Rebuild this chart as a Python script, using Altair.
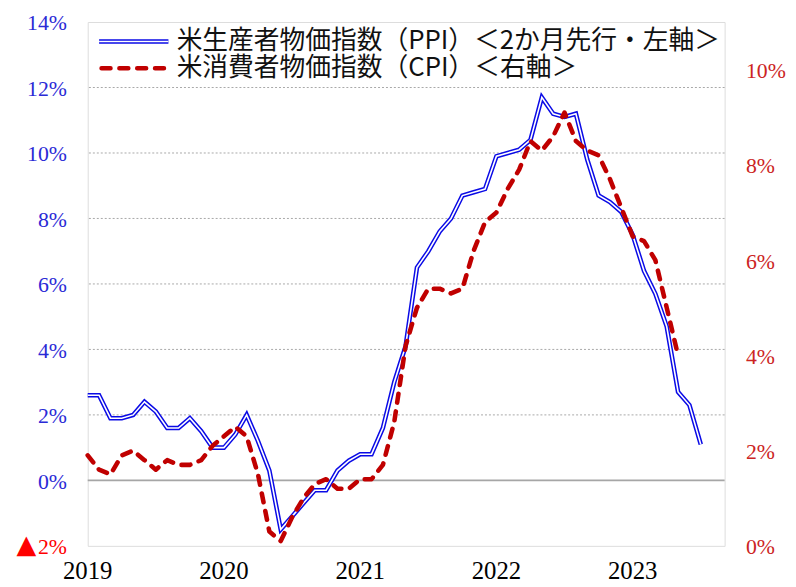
import altair as alt
import pandas as pd

# ---- data ----
# month index 0 = first plotted month (axis label "2019"), one step per month
ppi = [2.6, 2.6, 1.9, 1.9, 2.0, 2.4, 2.1, 1.6, 1.6, 1.9, 1.5, 1.0, 1.0, 1.4, 2.0,
       1.2, 0.3, -1.5, -1.1, -0.7, -0.3, -0.3, 0.3, 0.6, 0.8, 0.8, 1.6, 3.0, 4.1,
       6.5, 7.0, 7.6, 8.0, 8.7, 8.8, 8.9, 9.9, 10.0, 10.1, 10.4, 11.7, 11.2, 11.1,
       11.2, 9.8, 8.7, 8.5, 8.2, 7.5, 6.4, 5.7, 4.7, 2.7, 2.3, 1.1]
cpi = [1.9, 1.6, 1.5, 1.9, 2.0, 1.8, 1.6, 1.8, 1.7, 1.7, 1.8, 2.1, 2.3, 2.5, 2.3,
       1.5, 0.3, 0.1, 0.6, 1.0, 1.3, 1.4, 1.2, 1.2, 1.4, 1.4, 1.7, 2.6, 4.2, 5.0,
       5.4, 5.4, 5.3, 5.4, 6.2, 6.8, 7.0, 7.5, 7.9, 8.5, 8.3, 8.6, 9.1, 8.5, 8.3,
       8.2, 7.7, 7.1, 6.5, 6.4, 6.0, 5.0, 4.0]
year_labels = ["2019", "2020", "2021", "2022", "2023"]
year_positions = [0, 12, 24, 36, 48]
left_ticks = [-2, 0, 2, 4, 6, 8, 10, 12, 14]
right_ticks = [0, 2, 4, 6, 8, 10]
grid_levels = [2, 4, 6, 8, 10, 12]
legend_labels = ["米生産者物価指数（PPI）＜2か月先行・左軸＞", "米消費者物価指数（CPI）＜右軸＞"]
negative_mark = "▲"

ppi_df = pd.DataFrame({"m": list(range(len(ppi))), "v": ppi})
cpi_df = pd.DataFrame({"m": list(range(len(cpi))), "v": cpi})
grid_df = pd.DataFrame({"g": grid_levels})
zero_df = pd.DataFrame({"g": [0]})
years_df = pd.DataFrame({"m": year_positions, "t": year_labels})
one = pd.DataFrame({"t": [legend_labels[0]]})
two = pd.DataFrame({"t": [legend_labels[1]]})
neg_df = pd.DataFrame({"t": [negative_mark]})

BLUE = "#0a0ae6"
RED = "#c00000"
SERIF = "Liberation Serif"
CJK = "Noto Sans CJK JP"

x_scale = alt.Scale(domain=[0, 56.1], nice=False, zero=False)
left_scale = alt.Scale(domain=[-2, 14], nice=False, zero=False)
right_scale = alt.Scale(domain=[0, 11], nice=False, zero=False)

x_noaxis = alt.X("m:Q", scale=x_scale, axis=None)

grid = alt.Chart(grid_df).mark_rule(color="#a8a8a8", strokeWidth=1, strokeDash=[2, 2]).encode(
    y=alt.Y("g:Q", scale=left_scale, axis=None))
zero = alt.Chart(zero_df).mark_rule(color="#a6a6a6", strokeWidth=2).encode(
    y=alt.Y("g:Q", scale=left_scale, axis=None))

ppi_outer = alt.Chart(ppi_df).mark_line(color=BLUE, strokeWidth=4.6, strokeJoin="miter").encode(
    x=x_noaxis,
    y=alt.Y("v:Q", scale=left_scale, title=None,
            axis=alt.Axis(values=left_ticks, orient="left", domain=False, ticks=False, grid=False,
                          labelExpr="datum.value < 0 ? abs(datum.value) + '%' : datum.value + '%'",
                          labelColor={"condition": {"test": "datum.value < 0", "value": "#ff0000"},
                                      "value": "#2a2ad6"},
                          labelFont=SERIF, labelFontSize=22, labelPadding=21.5,
                          labelBaseline="middle", labelOffset=1, labelFlush=False,
                          labelOverlap=False)))
ppi_inner = alt.Chart(ppi_df).mark_line(color="white", strokeWidth=1.6, strokeJoin="miter").encode(
    x=x_noaxis, y=alt.Y("v:Q", scale=left_scale, axis=None))

cpi_line = alt.Chart(cpi_df).mark_line(color=RED, strokeWidth=4.6, strokeDash=[9, 9],
                                       strokeCap="round", strokeJoin="round").encode(
    x=x_noaxis,
    y=alt.Y("v:Q", scale=right_scale, title=None,
            axis=alt.Axis(values=right_ticks, orient="right", domain=False, ticks=False, grid=False,
                          labelExpr="datum.value + '%'", labelColor="#cc2424",
                          labelFont=SERIF, labelFontSize=22, labelPadding=21,
                          labelBaseline="middle", labelOffset=1, labelFlush=False,
                          labelOverlap=False)))

# year labels under the plot
years = alt.Chart(years_df).mark_text(font=SERIF, fontSize=25, color="#000000",
                                      align="center", baseline="alphabetic").encode(
    x=x_noaxis, y=alt.value(562.7), text="t:N")

# red triangle in front of the "2%" label at the bottom of the left axis
neg = alt.Chart(neg_df).mark_text(font="DejaVu Sans", fontSize=26, color="#ff0000",
                                  align="center", baseline="middle").encode(
    x=alt.value(-62), y=alt.value(528.5), text="t:N")

# legend (inside plot, top-left)
leg_blue_o = alt.Chart(one).mark_rule(color=BLUE, strokeWidth=4.6).encode(
    x=alt.value(11.5), x2=alt.value(81.5), y=alt.value(19.7))
leg_blue_i = alt.Chart(one).mark_rule(color="white", strokeWidth=1.6).encode(
    x=alt.value(11.5), x2=alt.value(81.5), y=alt.value(19.7))
leg_red = alt.Chart(two).mark_rule(color=RED, strokeWidth=4.6, strokeDash=[9, 9],
                                   strokeCap="round").encode(
    x=alt.value(14), x2=alt.value(81.5), y=alt.value(46.7))
leg_t1 = alt.Chart(one).mark_text(align="left", baseline="middle", font=CJK, fontSize=26,
                                  color="#111111").encode(
    x=alt.value(89.8), y=alt.value(19.7), text="t:N")
leg_t2 = alt.Chart(two).mark_text(align="left", baseline="middle", font=CJK, fontSize=26,
                                  color="#111111").encode(
    x=alt.value(89.8), y=alt.value(46.7), text="t:N")

chart = alt.layer(grid, zero, ppi_outer, ppi_inner, cpi_line, years, neg,
                  leg_blue_o, leg_blue_i, leg_red, leg_t1, leg_t2
                  ).resolve_scale(y="independent").properties(
    width=643.2, height=529,
    autosize=alt.AutoSizeParams(type="none"),
    padding={"left": 80.5, "top": 11.3, "right": 64, "bottom": 40.7},
).configure_view(stroke="#a0a0a0", strokeWidth=2).configure(font=SERIF)

chart.save("out.html", embed_options={"renderer": "svg", "actions": False})
